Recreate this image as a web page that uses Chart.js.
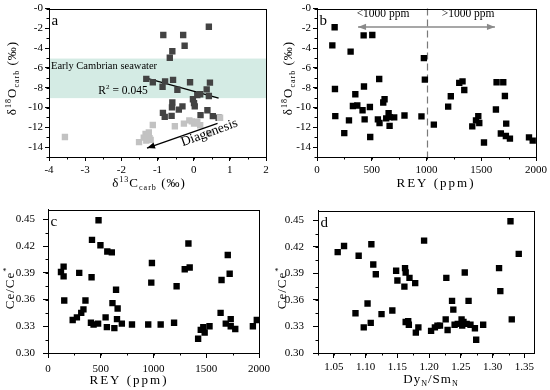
<!DOCTYPE html>
<html lang="en">
<head>
<meta charset="UTF-8">
<title>Carbonate isotopes and Ce anomaly vs REY</title>
<script src="https://cdn.jsdelivr.net/npm/chart.js"></script>
<style>
  body { margin: 0; background: #fff; }
  .panel { position: absolute; width: 275px; height: 195px; }
</style>
</head>
<body>
<div class="panel" style="left:0;top:0"><canvas id="chartA"></canvas></div>
<div class="panel" style="left:275px;top:0"><canvas id="chartB"></canvas></div>
<div class="panel" style="left:0;top:195px"><canvas id="chartC"></canvas></div>
<div class="panel" style="left:275px;top:195px"><canvas id="chartD"></canvas></div>
<script>
// ---- panel a: d13C vs d18O (dark = samples, light = diagenetically altered) ----
const aDarkC = [0.42,-0.84,-0.29,-0.25,-0.59,-0.66,-1.31,-1.13,-0.79,-0.57,-0.86,-0.10,0.45,-0.45,0.36,0.18,0.10,0.42,-0.02,0.01,0.03,-0.59,-0.60,-0.31,-0.41,-0.85,-0.80,-0.61,0.19,0.38,0.53,0.69];
const aDarkO = [-1.84,-2.67,-2.67,-3.75,-4.31,-4.97,-7.11,-7.44,-7.35,-7.21,-7.90,-7.44,-7.48,-8.20,-8.17,-8.66,-8.75,-8.83,-9.16,-9.55,-9.88,-9.49,-9.98,-9.88,-10.21,-10.54,-10.94,-10.84,-10.77,-10.28,-10.87,-11.03];
const aLightC = [-3.56,-1.13,-1.51,-1.33,-1.27,-1.38,-1.19,-1.31,-1.24,-0.52,-0.27,-0.12,0.01,0.10,0.18,0.43,0.73,-0.05,-1.22];
const aLightO = [-12.98,-11.76,-13.50,-12.68,-12.94,-13.04,-13.27,-13.34,-12.52,-11.89,-11.63,-11.30,-11.63,-11.43,-11.79,-12.60,-11.03,-11.40,-13.10];
const seawaterBand = [-9.05, -5.05];       // Early Cambrian seawater d18O range
const trendSlope = -1.01, trendIntercept = -8.34, trendR2 = '0.045';
const diagenesisFrom = [0.66, -11.6], diagenesisTo = [-1.29, -14.1];

// ---- panel b: REY vs d18O ----
const bRey = [161,140,426,505,307,976,985,568,164,429,350,617,605,328,368,416,483,167,292,435,654,556,571,632,663,705,799,954,663,249,486,1067,1198,1222,1299,1329,1345,1473,1452,1482,1418,1525,1640,1701,1716,1634,1728,1679,1725,1762,1936,1970];
const bO18 = [-1.88,-3.72,-2.70,-2.67,-4.35,-5.00,-7.18,-7.12,-8.13,-7.87,-8.66,-9.16,-9.49,-9.85,-9.79,-10.28,-9.95,-10.87,-11.30,-11.20,-10.57,-11.20,-11.56,-11.10,-10.97,-11.00,-10.80,-10.90,-11.86,-12.58,-12.98,-11.73,-9.91,-8.86,-7.51,-7.35,-8.23,-10.87,-11.30,-11.56,-11.90,-13.54,-7.44,-7.44,-8.83,-10.20,-11.63,-12.62,-12.88,-13.14,-13.01,-13.34];
const reyThreshold = 1000;
const reyArrowRange = [375, 1625];

// ---- panel c: REY vs Ce/Ce* ----
const cRey = [479,417,497,562,605,148,123,148,296,413,154,355,645,611,660,336,315,274,234,407,432,475,558,629,546,654,700,796,950,985,979,1068,1195,1219,1296,1343,1331,1423,1448,1472,1485,1531,1636,1645,1704,1722,1685,1732,1732,1775,1942,1979];
const cCe = [0.449,0.427,0.421,0.414,0.413,0.397,0.391,0.386,0.390,0.385,0.359,0.359,0.371,0.356,0.350,0.349,0.345,0.340,0.337,0.334,0.332,0.333,0.329,0.328,0.340,0.338,0.333,0.332,0.332,0.401,0.379,0.332,0.334,0.375,0.394,0.396,0.423,0.316,0.326,0.329,0.323,0.330,0.345,0.382,0.410,0.389,0.333,0.338,0.330,0.327,0.330,0.337];

// ---- panel d: DyN/SmN vs Ce/Ce* ----
const dDySm = [1.056,1.066,1.089,1.109,1.112,1.116,1.148,1.150,1.162,1.163,1.169,1.161,1.178,1.103,1.084,1.097,1.108,1.125,1.142,1.163,1.167,1.168,1.183,1.179,1.192,1.328,1.341,1.310,1.312,1.330,1.256,1.227,1.236,1.262,1.238,1.226,1.229,1.203,1.209,1.213,1.217,1.240,1.245,1.251,1.252,1.254,1.259,1.265,1.272,1.274,1.285];
const dCe = [0.414,0.421,0.410,0.423,0.400,0.389,0.393,0.382,0.396,0.391,0.385,0.375,0.379,0.356,0.345,0.329,0.334,0.344,0.348,0.335,0.336,0.332,0.329,0.323,0.427,0.449,0.412,0.396,0.370,0.338,0.391,0.385,0.359,0.359,0.349,0.338,0.326,0.325,0.329,0.331,0.331,0.332,0.333,0.338,0.331,0.335,0.333,0.332,0.328,0.315,0.332];

const SERIF = '"Liberation Serif", "Times New Roman", serif';
Chart.defaults.font.family = SERIF;
Chart.defaults.color = '#000';

function pts(xs, ys) { return xs.map((x, i) => ({x: x, y: ys[i]})); }

function squares(data, color) {
  return {data: data, pointStyle: 'rect', pointRadius: 4.5, borderWidth: 0,
          backgroundColor: color, borderColor: color};
}

// text with super/subscripts, centred on (x, y)
function richText(ctx, parts, x, y, size, opt) {
  opt = opt || {};
  ctx.save();
  ctx.translate(x, y);
  if (opt.rotate) ctx.rotate(opt.rotate);
  ctx.letterSpacing = (opt.spacing || 0) + 'px';
  ctx.fillStyle = '#000';
  ctx.textBaseline = 'alphabetic';
  const fontFor = m => (m ? size * 0.62 : size) + 'px ' + SERIF;
  let total = 0;
  parts.forEach(([t, m]) => { ctx.font = fontFor(m); total += ctx.measureText(t).width; });
  let cx = opt.align === 'left' ? 0 : -total / 2;
  parts.forEach(([t, m]) => {
    ctx.font = fontFor(m);
    const dy = m === 'sup' ? -size * 0.38 : (m === 'sub' ? size * 0.22 : 0);
    ctx.fillText(t, cx, dy + size * 0.33);
    cx += ctx.measureText(t).width;
  });
  ctx.restore();
}

function arrowLine(ctx, x1, y1, x2, y2, color, width, bothEnds) {
  ctx.save();
  ctx.strokeStyle = color; ctx.fillStyle = color; ctx.lineWidth = width;
  ctx.beginPath(); ctx.moveTo(x1, y1); ctx.lineTo(x2, y2); ctx.stroke();
  const head = (xa, ya, xb, yb) => {
    const a = Math.atan2(yb - ya, xb - xa), L = 8, W = 3.2;
    ctx.beginPath();
    ctx.moveTo(xb, yb);
    ctx.lineTo(xb - L * Math.cos(a) + W * Math.sin(a), yb - L * Math.sin(a) - W * Math.cos(a));
    ctx.lineTo(xb - L * Math.cos(a) - W * Math.sin(a), yb - L * Math.sin(a) + W * Math.cos(a));
    ctx.closePath(); ctx.fill();
  };
  head(x1, y1, x2, y2);
  if (bothEnds) head(x2, y2, x1, y1);
  ctx.restore();
}

// frame + short minor ticks, Origin style
const minorTicks = {
  id: 'minorTicks',
  afterDraw(chart, args, opts) {
    const ctx = chart.ctx, area = chart.chartArea;
    const xs = chart.scales.x, ys = chart.scales.y;
    ctx.save();
    ctx.strokeStyle = '#000'; ctx.lineWidth = 1;
    ctx.beginPath();
    const first = (s, step) => Math.ceil(s.min / step - 1e-9);
    for (let i = first(xs, opts.x); i * opts.x <= xs.max + 1e-9; i++) {
      const px = Math.round(xs.getPixelForValue(i * opts.x)) + 0.5;
      ctx.moveTo(px, area.bottom); ctx.lineTo(px, area.bottom + 2.5);
    }
    for (let i = first(ys, opts.y); i * opts.y <= ys.max + 1e-9; i++) {
      const py = Math.round(ys.getPixelForValue(i * opts.y)) + 0.5;
      ctx.moveTo(area.left, py); ctx.lineTo(area.left - 2.5, py);
    }
    ctx.stroke();
    ctx.strokeRect(Math.round(area.left) + 0.5, Math.round(area.top) + 0.5,
                   Math.round(area.right - area.left), Math.round(area.bottom - area.top));
    ctx.restore();
  }
};

function axis(min, max, step, fmt, fit, isX, tickLen, pad) {
  return {
    type: 'linear', min: min, max: max,
    border: {display: true, color: '#000', width: 1},
    grid: {drawOnChartArea: false, drawTicks: true, tickLength: tickLen, color: '#000', lineWidth: 1},
    ticks: {stepSize: step, includeBounds: false, padding: pad, autoSkip: false, maxRotation: 0,
            font: {size: 11}, color: '#000', callback: fmt},
    afterFit(scale) { if (isX) scale.height = fit; else scale.width = fit; }
  };
}

function makePanel(id, cfg) {
  return new Chart(document.getElementById(id), {
    type: 'scatter',
    data: {datasets: cfg.datasets},
    options: {
      responsive: true, maintainAspectRatio: false, animation: false, events: [],
      layout: {padding: cfg.padding},
      plugins: {legend: {display: false}, tooltip: {enabled: false}, minorTicks: cfg.minor},
      scales: {x: cfg.x, y: cfg.y}
    },
    plugins: [minorTicks, {
      id: 'extras',
      beforeDatasetsDraw(chart) { if (cfg.under) cfg.under(chart); },
      afterDraw(chart) { cfg.over(chart); }
    }]
  });
}

function panelLetter(chart, letter) {
  const ctx = chart.ctx, area = chart.chartArea;
  ctx.save();
  ctx.font = '15px ' + SERIF; ctx.fillStyle = '#000'; ctx.textAlign = 'left';
  ctx.fillText(letter, area.left + 2.5, area.top + 16);
  ctx.restore();
}

const d18Title = [['δ', ''], ['18', 'sup'], ['O', ''], ['carb', 'sub'], [' (‰)', '']];
const ceTitle = [['Ce/Ce', ''], ['*', 'sup']];
const reyTitle = [['REY (ppm)', '']];
const d18Tick = v => (v === 0 ? '-0' : String(v));
const fix2 = v => v.toFixed(2);

// trend line end points come from the dark-sample x range
const trendX = [Math.min(...aDarkC), Math.max(...aDarkC)];

// ---- a ----
makePanel('chartA', {
  padding: {left: 0, right: 9, top: 5, bottom: 0},
  minor: {x: 0.5, y: 1},
  x: axis(-4, 2, 1, v => String(v), 38, true, 4, 3),
  y: axis(-15, 0, 2, d18Tick, 49, false, 4, 2),
  datasets: [
    squares(pts(aLightC, aLightO), '#c2c2c2'),
    squares(pts(aDarkC, aDarkO), '#434343'),
    {data: trendX.map(x => ({x: x, y: trendIntercept + trendSlope * x})), showLine: true,
     pointRadius: 0, borderColor: '#000', borderWidth: 1.3}
  ],
  under(chart) {
    const ctx = chart.ctx, area = chart.chartArea, ys = chart.scales.y;
    const top = ys.getPixelForValue(seawaterBand[1]), bot = ys.getPixelForValue(seawaterBand[0]);
    ctx.save();
    ctx.fillStyle = '#d4ebe4';
    ctx.fillRect(area.left, top, area.right - area.left, bot - top);
    ctx.restore();
    richText(ctx, [['Early Cambrian seawater', '']], area.left + 2, top + 7, 10.5, {align: 'left'});
  },
  over(chart) {
    const ctx = chart.ctx, xs = chart.scales.x, ys = chart.scales.y;
    richText(ctx, [['R', ''], ['2', 'sup'], [' = ' + trendR2, '']], 123, 90, 11.5);
    arrowLine(ctx, xs.getPixelForValue(diagenesisFrom[0]), ys.getPixelForValue(diagenesisFrom[1]),
              xs.getPixelForValue(diagenesisTo[0]), ys.getPixelForValue(diagenesisTo[1]), '#000', 1.3, false);
    richText(ctx, [['Diagenesis', '']], 209, 132, 13.5, {rotate: -0.35});
    panelLetter(chart, 'a');
    richText(ctx, [['δ', ''], ['13', 'sup'], ['C', ''], ['carb', 'sub'], [' (‰)', '']], 149, 183, 13, {spacing: 1});
    richText(ctx, d18Title, 12, 78, 13, {rotate: -Math.PI / 2, spacing: 1});
  }
});

// ---- b ----
makePanel('chartB', {
  padding: {left: 0, right: 14, top: 5, bottom: 0},
  minor: {x: 250, y: 1},
  x: axis(0, 2000, 500, v => String(v), 38, true, 4, 3),
  y: axis(-15, 0, 2, d18Tick, 42, false, 4, 2),
  datasets: [squares(pts(bRey, bO18), '#000')],
  under(chart) {
    const ctx = chart.ctx, area = chart.chartArea, xs = chart.scales.x;
    const px = Math.round(xs.getPixelForValue(reyThreshold)) + 0.5;
    ctx.save();
    ctx.strokeStyle = '#7a7a7a'; ctx.lineWidth = 1.2; ctx.setLineDash([7, 4]);
    ctx.beginPath(); ctx.moveTo(px, area.top); ctx.lineTo(px, area.bottom); ctx.stroke();
    ctx.restore();
  },
  over(chart) {
    const ctx = chart.ctx, xs = chart.scales.x, ys = chart.scales.y;
    const ay = ys.getPixelForValue(-1.85);
    arrowLine(ctx, xs.getPixelForValue(reyArrowRange[1]), ay, xs.getPixelForValue(reyArrowRange[0]), ay, '#8a8a8a', 1.5, true);
    richText(ctx, [['<1000 ppm', '']], xs.getPixelForValue(603), 13.5, 11.5);
    richText(ctx, [['>1000 ppm', '']], xs.getPixelForValue(1380), 13.5, 11.5);
    panelLetter(chart, 'b');
    richText(ctx, reyTitle, 161, 183, 13, {spacing: 2});
    richText(ctx, d18Title, 13, 78, 13, {rotate: -Math.PI / 2, spacing: 1});
  }
});

// ---- c ----
makePanel('chartC', {
  padding: {left: 0, right: 11, top: 5, bottom: 0},
  minor: {x: 250, y: 0.015},
  x: axis(0, 2000, 500, v => String(v), 37, true, 5, 5),
  y: axis(0.30, 0.461, 0.03, fix2, 48, false, 5, 8),
  datasets: [squares(pts(cRey, cCe), '#000')],
  over(chart) {
    panelLetter(chart, 'c');
    richText(chart.ctx, reyTitle, 129, 185, 13, {spacing: 2});
    richText(chart.ctx, ceTitle, 10, 93, 13, {rotate: -Math.PI / 2, spacing: 1});
  }
});

// ---- d ----
makePanel('chartD', {
  padding: {left: 0, right: 16, top: 5, bottom: 0},
  minor: {x: 0.025, y: 0.015},
  x: axis(1.025, 1.365, 0.05, fix2, 37, true, 5, 3),
  y: axis(0.30, 0.461, 0.03, fix2, 43, false, 5, 9),
  datasets: [squares(pts(dDySm, dCe), '#000')],
  over(chart) {
    panelLetter(chart, 'd');
    richText(chart.ctx, [['Dy', ''], ['N', 'sub'], ['/Sm', ''], ['N', 'sub']], 156, 184, 13, {spacing: 1});
    richText(chart.ctx, ceTitle, 6.5, 93, 13, {rotate: -Math.PI / 2, spacing: 1});
  }
});
</script>
</body>
</html>
